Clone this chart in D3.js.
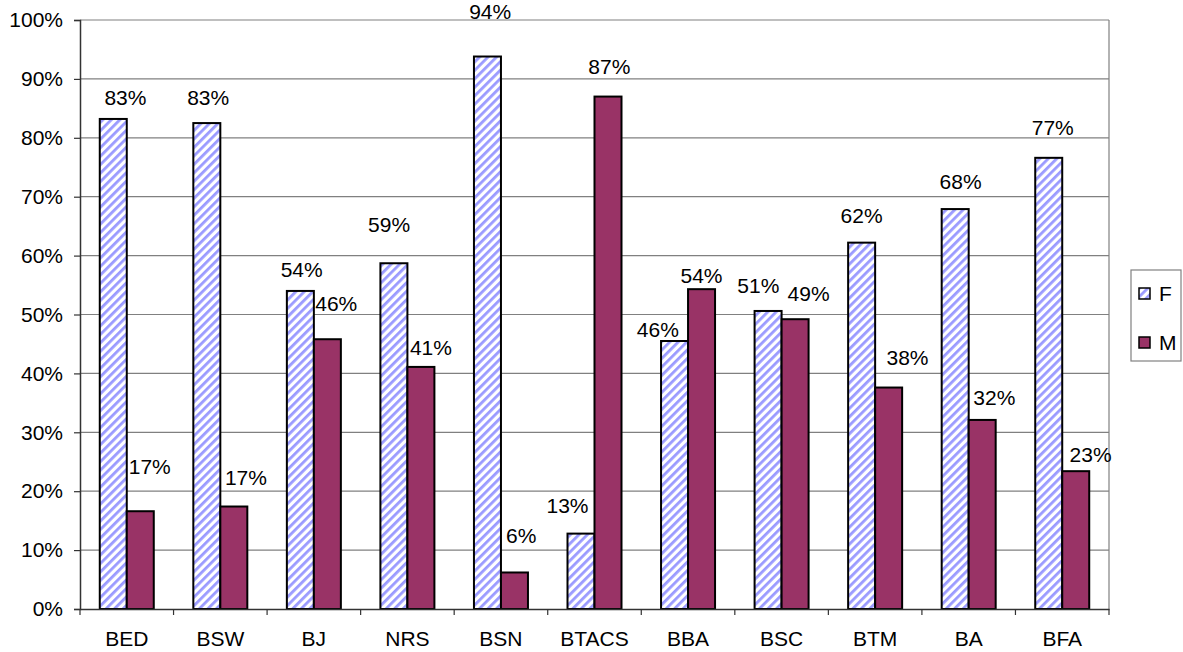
<!DOCTYPE html>
<html><head><meta charset="utf-8">
<script src="https://cdn.jsdelivr.net/npm/d3@7"></script>
<style>body{margin:0;background:#fff;} text{font-family:"Liberation Sans",Arial,sans-serif;}</style>
</head><body>
<svg id="chart" width="1183" height="652"></svg>
<script>
const categories = ["BED","BSW","BJ","NRS","BSN","BTACS","BBA","BSC","BTM","BA","BFA"];
const seriesNames = ["F","M"];
const fValues = [0.832,0.825,0.540,0.587,0.938,0.128,0.455,0.506,0.622,0.679,0.766];
const mValues = [0.166,0.174,0.458,0.411,0.062,0.870,0.543,0.492,0.376,0.321,0.234];
const fLabels = ["83%","83%","54%","59%","94%","13%","46%","51%","62%","68%","77%"];
const mLabels = ["17%","17%","46%","41%","6%","87%","54%","49%","38%","32%","23%"];
// label anchor (value units) as placed in the original chart
const fLabelAt = [0.856,0.856,0.564,0.640,1.002,0.163,0.462,0.537,0.656,0.713,0.805];
const mLabelAt = [0.229,0.211,0.506,0.431,0.112,0.908,0.553,0.523,0.414,0.346,0.250];
const fLabelShift = [0.45,0.05,0.05,-0.18,0.1,-0.5,-0.62,-0.36,0,0.2,0.15];
const mLabelShift = [0.35,0.45,0.33,0.37,0.25,0.05,0,0.5,0.7,0.45,0.55];
const yTicks = [0,0.1,0.2,0.3,0.4,0.5,0.6,0.7,0.8,0.9,1.0];

const FS = 21;
const svg = d3.select("#chart");
const L = 80, R = 1109, T = 20, B = 609;
const x = d3.scaleBand().domain(categories).range([L, R]).paddingInner(0).paddingOuter(0);
const bw = 27;
const y = d3.scaleLinear().domain([0,1]).range([B, T]);

const defs = svg.append("defs");
const pat = defs.append("pattern").attr("id","hatch").attr("patternUnits","userSpaceOnUse")
  .attr("width",6).attr("height",6).attr("patternTransform","rotate(45)");
pat.append("rect").attr("width",6).attr("height",6).attr("fill","#fff");
pat.append("rect").attr("width",2.8).attr("height",6).attr("fill","#9a9aff");

// gridlines
svg.append("g").selectAll("line").data(yTicks.slice(1)).join("line")
  .attr("x1",L).attr("x2",R).attr("y1",d=>y(d)).attr("y2",d=>y(d))
  .attr("stroke","#808080").attr("stroke-width",1.2);
// plot right border
svg.append("line").attr("x1",R).attr("x2",R).attr("y1",T).attr("y2",B).attr("stroke","#808080").attr("stroke-width",1.2);

// y axis
const yAxis = d3.axisLeft(y).tickValues(yTicks).tickFormat(d3.format(".0%")).tickSize(6).tickPadding(11);
const gy = svg.append("g").attr("transform",`translate(${L},0)`).call(yAxis);
gy.select(".domain").attr("stroke","#333").attr("stroke-width",1.5);
gy.selectAll(".tick line").attr("stroke","#333").attr("stroke-width",1.2);
gy.selectAll(".tick text").attr("font-size",FS).attr("fill","#000").attr("font-family","Liberation Sans, Arial, sans-serif");

const cx = (c) => x(c) + x.bandwidth()/2;

// bars
const gb = svg.append("g");
gb.selectAll("rect.f").data(categories).join("rect").attr("class","f")
  .attr("x",(c)=>cx(c)-bw).attr("width",bw)
  .attr("y",(c,i)=>y(fValues[i])).attr("height",(c,i)=>B-y(fValues[i]))
  .attr("fill","url(#hatch)").attr("stroke","#000").attr("stroke-width",2);
gb.selectAll("rect.m").data(categories).join("rect").attr("class","m")
  .attr("x",(c)=>cx(c)).attr("width",bw)
  .attr("y",(c,i)=>y(mValues[i])).attr("height",(c,i)=>B-y(mValues[i]))
  .attr("fill","#993366").attr("stroke","#000").attr("stroke-width",2);

// x axis
const xAxis = d3.axisBottom(x).tickSize(0).tickPadding(22);
const gx = svg.append("g").attr("transform",`translate(0,${B})`).call(xAxis);
gx.select(".domain").attr("stroke","#333").attr("stroke-width",1.5);
gx.selectAll(".tick text").attr("font-size",FS).attr("fill","#000").attr("font-family","Liberation Sans, Arial, sans-serif");
svg.append("g").selectAll("line").data(d3.range(categories.length+1)).join("line")
  .attr("x1",i=>L+i*x.step()).attr("x2",i=>L+i*x.step())
  .attr("y1",B).attr("y2",B+6).attr("stroke","#333").attr("stroke-width",1.2);

// data labels
const gl = svg.append("g").attr("font-size",FS).attr("text-anchor","middle").attr("fill","#000");
gl.selectAll("text.f").data(categories).join("text").attr("class","f")
  .attr("x",(c,i)=>cx(c)-bw/2 + fLabelShift[i]*bw).attr("y",(c,i)=>y(fLabelAt[i]))
  .text((c,i)=>fLabels[i]);
gl.selectAll("text.m").data(categories).join("text").attr("class","m")
  .attr("x",(c,i)=>cx(c)+bw/2 + mLabelShift[i]*bw).attr("y",(c,i)=>y(mLabelAt[i]))
  .text((c,i)=>mLabels[i]);

// legend
const lg = svg.append("g");
lg.append("rect").attr("x",1131).attr("y",270).attr("width",50).attr("height",91)
  .attr("fill","#fff").attr("stroke","#808080").attr("stroke-width",1.2);
const fills = ["url(#hatch)","#993366"];
seriesNames.forEach((s,i)=>{
  const yy = 294 + i*49;
  lg.append("rect").attr("x",1139).attr("y",yy-6).attr("width",11).attr("height",11)
    .attr("fill",fills[i]).attr("stroke","#000").attr("stroke-width",1.5);
  lg.append("text").attr("x",1159).attr("y",yy+7).attr("font-size",FS).text(s);
});
</script>
</body></html>
